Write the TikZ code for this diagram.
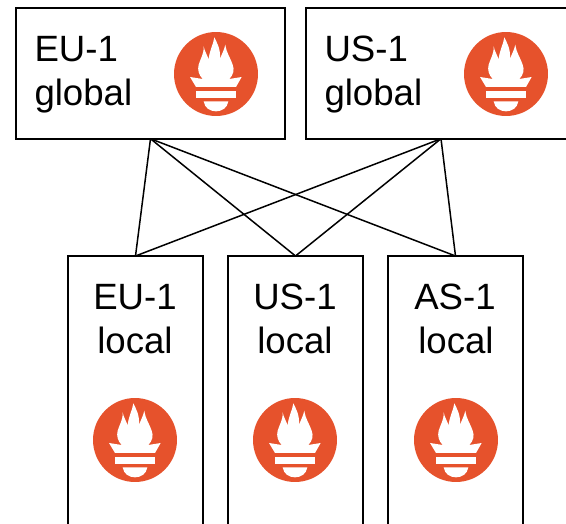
\documentclass[tikz,border=0pt]{standalone}
\usepackage{fontspec}
\setmainfont{Liberation Sans}
\definecolor{promorange}{HTML}{E6522C}
\tikzset{
  box/.style={draw=black,line width=1.6pt,fill=white,inner sep=0pt,outer sep=0pt,rectangle},
  topbox/.style={box,minimum width=269.5pt,minimum height=130.5pt},
  lowbox/.style={box,minimum width=135pt,minimum height=300pt},
  lbl/.style={inner sep=0pt,outer sep=0pt,font=\fontsize{36.6}{43}\selectfont,text=black},
  link/.style={draw=black,line width=1.5pt,line join=round},
  promlogo/.pic={
    \begin{scope}[x=0.3333pt,y=-0.3333pt]
    \fill[promorange] (0,0) circle (126);
    \fill[white] (-78,9) -- (-60,39) -- (60,39) -- (77,9) -- (40,15)
      .. controls (52,2) and (56,-12) .. (50,-28)
      .. controls (44,-48) and (32,-60) .. (28,-88)
      .. controls (24,-70) and (16,-58) .. (12,-44)
      .. controls (14,-75) and (4,-92) .. (-5,-110)
      .. controls (-8,-88) and (-20,-70) .. (-22,-44)
      .. controls (-26,-56) and (-34,-68) .. (-37,-83)
      .. controls (-36,-60) and (-46,-48) .. (-52,-28)
      .. controls (-56,-12) and (-52,2) .. (-40,15) -- cycle;
    \fill[white] (-60,50) rectangle (60,72);
    \fill[white] (-37,82) -- (37,82) .. controls (34,102) and (18,112) .. (0,112)
      .. controls (-18,112) and (-34,102) .. (-37,82) -- cycle;
    \end{scope}
  }
}
\begin{document}
\begin{tikzpicture}[x=1pt,y=-1pt]
  \useasboundingbox (0,0) rectangle (566,524);
  \clip (0,0) rectangle (566,524);
  \node[topbox] (g1) at (150.5,73.5) {};
  \node[topbox] (g2) at (441,73.5) {};
  \node[lowbox,anchor=north] (l1) at (135.5,256) {};
  \node[lowbox,anchor=north] (l2) at (295.5,256) {};
  \node[lowbox,anchor=north] (l3) at (455.5,256) {};
  \foreach \s in {g1,g2} \foreach \t in {l1,l2,l3}
    \draw[link] (\s.south) -- (\t.north);
  \node[lbl,anchor=base west] (t1a) at (34.5,62) {EU-1};
  \node[lbl,anchor=base west] (t1b) at (34.5,105.5) {global};
  \node[lbl,anchor=base west] (t2a) at (324.5,62) {US-1};
  \node[lbl,anchor=base west] (t2b) at (324.5,105.5) {global};
  \node[lbl,anchor=base] (t3a) at (135,310) {EU-1};
  \node[lbl,anchor=base] (t3b) at (135,353.5) {local};
  \node[lbl,anchor=base] (t4a) at (295,310) {US-1};
  \node[lbl,anchor=base] (t4b) at (295,353.5) {local};
  \node[lbl,anchor=base] (t5a) at (455,310) {AS-1};
  \node[lbl,anchor=base] (t5b) at (456,353.5) {local};
  \pic at (216,74) {promlogo};
  \pic at (506,74) {promlogo};
  \pic at (135,440) {promlogo};
  \pic at (295,440) {promlogo};
  \pic at (456,440) {promlogo};
\end{tikzpicture}
\end{document}
